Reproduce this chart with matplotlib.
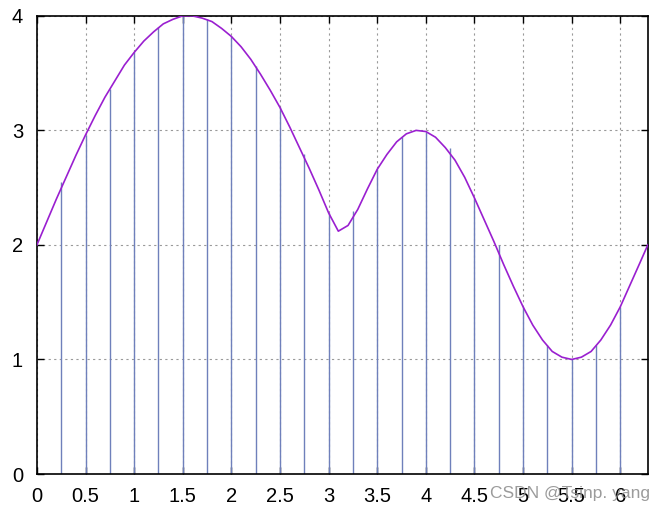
import matplotlib
matplotlib.use("Agg")
from matplotlib import pyplot as plt

plt.rcParams['font.family'] = ['Liberation Sans', 'DejaVu Sans']

# curve (x every 0.1, last point at 2*pi)
curveX = [round(0.1 * i, 1) for i in range(63)] + [6.283]
curveY = [2.00, 2.20, 2.40, 2.59, 2.78, 2.96, 3.13, 3.29, 3.43, 3.57,
          3.68, 3.78, 3.86, 3.93, 3.97, 4.00, 4.00, 3.98, 3.95, 3.89,
          3.82, 3.73, 3.62, 3.49, 3.35, 3.20, 3.03, 2.85, 2.67, 2.48,
          2.28, 2.12, 2.17, 2.31, 2.49, 2.66, 2.79, 2.90, 2.97, 3.00,
          2.99, 2.94, 2.85, 2.74, 2.59, 2.41, 2.22, 2.03, 1.83, 1.64,
          1.46, 1.30, 1.17, 1.07, 1.02, 1.00, 1.02, 1.07, 1.17, 1.30,
          1.46, 1.65, 1.84, 2.00]

# vertical sample lines
stemX = [0.25 * k for k in range(1, 25)]
stemY = [2.55, 2.96, 3.36, 3.68, 3.90, 4.02, 3.97, 3.82, 3.56, 3.20,
         2.79, 2.28, 2.30, 2.66, 2.94, 2.99, 2.85, 2.41, 2.00, 1.46,
         1.13, 1.00, 1.13, 1.46]

xticks = [0, 0.5, 1, 1.5, 2, 2.5, 3, 3.5, 4, 4.5, 5, 5.5, 6]
xlabels = ["0", "0.5", "1", "1.5", "2", "2.5", "3", "3.5", "4", "4.5", "5", "5.5", "6"]
yticks = [0, 1, 2, 3, 4]

fig = plt.figure(figsize=(6.59, 5.11), dpi=100)
ax = fig.add_axes([0.056, 0.0724, 0.927, 0.8966])

ax.vlines(stemX, 0, stemY, color="#6f80bb", linewidth=1.0, zorder=2)
ax.plot(curveX, curveY, color="#9a1fd0", linewidth=1.2, zorder=3)

ax.set_xlim(0, 6.283)
ax.set_ylim(0, 4)
ax.set_xticks(xticks)
ax.set_xticklabels(xlabels)
ax.set_yticks(yticks)
ax.grid(True, color="#9a9a9a", linestyle=(0, (2, 3)), linewidth=0.8)
ax.set_axisbelow(True)
ax.tick_params(direction="in", length=5, width=1, labelsize=14.5,
               top=True, right=True, colors="black")
ax.tick_params(axis="x", pad=9)
ax.tick_params(axis="y", pad=10)
for s in ax.spines.values():
    s.set_linewidth(1.2)

fig.text(0.743, 0.035, "CSDN @Tsinp. yang", fontsize=12.5, color="#8a8a8a",
         alpha=0.85, ha="left", va="center")

fig.savefig("out.png", dpi=100)
